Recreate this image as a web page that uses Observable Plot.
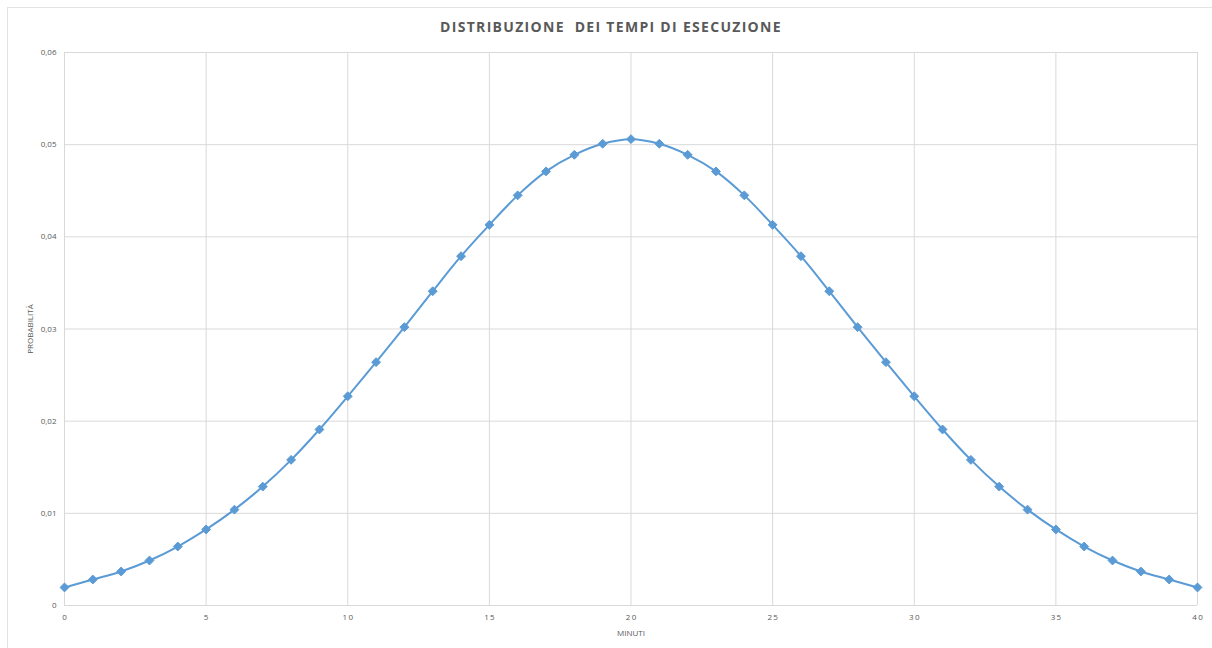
<!DOCTYPE html>
<html>
<head>
<meta charset="utf-8">
<script src="https://cdn.jsdelivr.net/npm/d3@7"></script>
<script src="https://cdn.jsdelivr.net/npm/@observablehq/plot@0.6"></script>
<style>
  html, body { margin: 0; padding: 0; background: #fff; }
  #wrap { position: relative; width: 1212px; height: 648px; overflow: hidden; font-family: "Open Sans", sans-serif; }
  #frame { position: absolute; left: 7px; top: 7px; width: 1220px; height: 660px; border: 1px solid #e3e3e3; box-sizing: border-box; }
  #title { position: absolute; left: 0; top: 17px; width: 1222px; text-align: center; font-size: 14px; font-weight: 700; letter-spacing: 1.3px; color: #595959; }
  #chart { position: absolute; left: 0; top: 44px; }
</style>
</head>
<body>
<div id="wrap">
  <div id="frame"></div>
  <div id="title">DISTRIBUZIONE&nbsp; DEI TEMPI DI ESECUZIONE</div>
  <div id="chart"></div>
</div>
<script>
const minuti = [0,1,2,3,4,5,6,7,8,9,10,11,12,13,14,15,16,17,18,19,20,21,22,23,24,25,26,27,28,29,30,31,32,33,34,35,36,37,38,39,40];
const probabilita = [0.00196,0.00282,0.00369,0.00488,0.0064,0.00825,0.0104,0.0129,0.0158,0.0191,0.0227,0.0264,0.0302,0.0341,0.0379,0.0413,0.0445,0.0471,0.0489,0.0501,0.0506,0.0501,0.0489,0.0471,0.0445,0.0413,0.0379,0.0341,0.0302,0.0264,0.0227,0.0191,0.0158,0.0129,0.0104,0.00825,0.0064,0.00488,0.00369,0.00282,0.00196];
const xTicks = [0,5,10,15,20,25,30,35,40];
const yTicks = [0,0.01,0.02,0.03,0.04,0.05,0.06];
const titolo = "DISTRIBUZIONE  DEI TEMPI DI ESECUZIONE";
const xLabel = "MINUTI";
const yLabel = "PROBABILITÀ";

const data = minuti.map((m, i) => ({m, p: probabilita[i]}));
const fmtY = d => d === 0 ? "0" : d3.format(".2f")(d).replace(".", ",");
const fmtX = d => String(d).split("").join("\u2009");

const chart = Plot.plot({
  width: 1212,
  height: 604,
  marginTop: 8,
  marginBottom: 43,
  marginLeft: 64,
  marginRight: 15,
  style: {fontFamily: "Open Sans, sans-serif", fontSize: "8px", color: "#595959", background: "transparent"},
  x: {domain: [0, 40], ticks: xTicks, tickFormat: fmtX, label: null, tickSize: 0, tickPadding: 9},
  y: {domain: [0, 0.06], ticks: yTicks, tickFormat: fmtY, label: null, tickSize: 0, tickPadding: 8},
  marks: [
    Plot.gridX(xTicks, {stroke: "#d9d9d9", strokeOpacity: 1, strokeWidth: 1}),
    Plot.gridY(yTicks, {stroke: "#d9d9d9", strokeOpacity: 1, strokeWidth: 1}),
    Plot.ruleY([0], {stroke: "#d9d9d9", strokeWidth: 1}),
    Plot.axisX({ticks: xTicks, tickFormat: fmtX, tickSize: 0, tickPadding: 9, label: null, fill: "#595959"}),
    Plot.axisY({ticks: yTicks, tickFormat: fmtY, tickSize: 0, tickPadding: 8, label: null, fill: "#595959"}),
    Plot.text([xLabel], {frameAnchor: "bottom", textAnchor: "middle", lineAnchor: "middle", dy: 28, fontSize: 8, fill: "#595959"}),
    Plot.text([yLabel], {frameAnchor: "left", textAnchor: "middle", lineAnchor: "middle", dx: -34, rotate: -90, fontSize: 8, fill: "#595959"}),
    Plot.line(data, {x: "m", y: "p", stroke: "#5b9bd5", strokeWidth: 2, curve: "catmull-rom"}),
    Plot.dot(data, {x: "m", y: "p", symbol: "diamond2", r: 4, fill: "#5b9bd5", stroke: "#5b9bd5", strokeWidth: 1})
  ]
});
document.getElementById("chart").appendChild(chart);
</script>
</body>
</html>
